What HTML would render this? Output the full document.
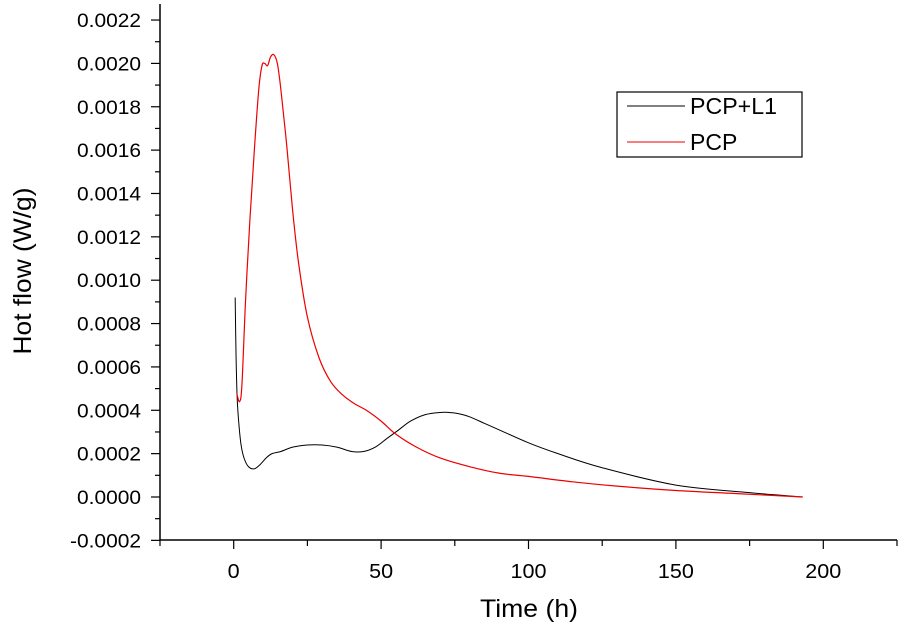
<!DOCTYPE html>
<html><head><meta charset="utf-8"><style>
body{margin:0;background:#fff}
svg{display:block;font-family:"Liberation Sans",Arial,sans-serif}
</style></head><body>
<svg id="chart" width="900" height="627" viewBox="0 0 900 627" xmlns="http://www.w3.org/2000/svg">
<g id="axes"></g>
<g id="series"></g>
<text x="529" y="617" font-size="25" text-anchor="middle" textLength="98" lengthAdjust="spacingAndGlyphs">Time (h)</text>
<text transform="translate(31,271) rotate(-90)" font-size="25" text-anchor="middle" textLength="167" lengthAdjust="spacingAndGlyphs">Hot flow (W/g)</text>
<g>
<rect x="617" y="92" width="185" height="65" fill="#fff" stroke="#000" stroke-width="1.2"/>
<line x1="627" y1="106" x2="685" y2="106" stroke="#000" stroke-width="1"/>
<text x="690" y="114" font-size="23" textLength="87" lengthAdjust="spacingAndGlyphs">PCP+L1</text>
<line x1="627" y1="142" x2="685" y2="142" stroke="#e00" stroke-width="1"/>
<text x="690" y="150" font-size="23">PCP</text>
</g>
</svg>
<script>
const xTicks=[0,50,100,150,200];
const yTicks=[-0.0002,0,0.0002,0.0004,0.0006,0.0008,0.0010,0.0012,0.0014,0.0016,0.0018,0.0020,0.0022];
const yTickLabels=["-0.0002","0.0000","0.0002","0.0004","0.0006","0.0008","0.0010","0.0012","0.0014","0.0016","0.0018","0.0020","0.0022"];
const pcpT=[1,2,2.8,4,5.5,7,8.5,9.6,10.5,11.5,12.5,13.6,14.8,16,18,20,22,25,29,33,37,41,45,50,55,62,70,80,90,100,115,130,150,170,193];
const pcpV=[0.00048,0.00044,0.00052,0.0009,0.00128,0.0016,0.00188,0.00199,0.002,0.00199,0.00203,0.00204,0.002,0.00188,0.00162,0.00132,0.00108,0.00083,0.00064,0.00053,0.00047,0.00043,0.0004,0.00035,0.00029,0.00023,0.00018,0.00014,0.00011,0.000095,0.00007,0.00005,0.00003,0.000016,0];
const pclT=[0.5,0.8,1.2,1.8,2.5,3.5,5,7,9,11,13,16,20,25,30,35,40,44,48,52,56,60,65,70,73,76,80,85,90,100,110,125,150,175,193];
const pclV=[0.00092,0.00065,0.00045,0.00033,0.00024,0.00018,0.00014,0.00013,0.00015,0.00018,0.0002,0.00021,0.00023,0.00024,0.00024,0.00023,0.00021,0.00021,0.00023,0.00027,0.00031,0.00035,0.00038,0.00039,0.00039,0.000385,0.00037,0.00034,0.00031,0.00025,0.00020,0.000135,0.000055,0.00002,0];
const X0=-25,X1=225,PX0=160,PX1=897;
function xs(t){return PX0+(t-X0)/(X1-X0)*(PX1-PX0);}
function ys(v){return 497-v/0.0002*43.36;}
const NS="http://www.w3.org/2000/svg";
function mk(tag,attrs,parent){const e=document.createElementNS(NS,tag);for(const k in attrs)e.setAttribute(k,attrs[k]);parent.appendChild(e);return e;}
const ax=document.getElementById('axes');
let l=mk('line',{x1:PX0,y1:540,x2:PX1,y2:540,stroke:'#000','stroke-width':1.5},ax);


l=mk('line',{x1:PX0,y1:540,x2:PX0,y2:4,stroke:'#000','stroke-width':1.5},ax);


for(let t=-25;t<=225;t+=25){const major=(t%50===0);const x=xs(t);
 const tk=mk('line',{x1:x,y1:540,x2:x,y2:major?549:546,stroke:'#000','stroke-width':1.2},ax);
 
 }
xTicks.forEach(t=>{const s=String(t);const tx=mk('text',{x:xs(t),y:578,'font-size':20,'text-anchor':'middle',textLength:12*s.length,lengthAdjust:'spacingAndGlyphs'},ax);tx.textContent=s;
 
 });
for(let i=-2;i<=22;i++){const v=i*0.0001;const y=ys(v);const major=(i%2===0);
 const tk=mk('line',{x1:PX0,y1:y,x2:major?PX0-9:PX0-5,y2:y,stroke:'#000','stroke-width':1.2},ax);
 
 }
yTicks.forEach((v,i)=>{const s=yTickLabels[i];const tx=mk('text',{x:141,y:ys(v)+7,'font-size':19,'text-anchor':'end',textLength:s.length>6?71:64,lengthAdjust:'spacingAndGlyphs'},ax);tx.textContent=s;
 
 });
function pathOf(T,V){const p=T.map((t,i)=>[xs(t),ys(V[i])]);let d='M'+p[0][0]+','+p[0][1];
 for(let i=0;i<p.length-1;i++){const p0=p[i-1]||p[i],p1=p[i],p2=p[i+1],p3=p[i+2]||p2;
  d+=' C'+(p1[0]+(p2[0]-p0[0])/6)+','+(p1[1]+(p2[1]-p0[1])/6)+' '+(p2[0]-(p3[0]-p1[0])/6)+','+(p2[1]-(p3[1]-p1[1])/6)+' '+p2[0]+','+p2[1];}
 return d;}
const sg=document.getElementById('series');
const s1=mk('path',{d:pathOf(pclT,pclV),fill:'none',stroke:'#000','stroke-width':1},sg);


const s2=mk('path',{d:pathOf(pcpT,pcpV),fill:'none',stroke:'#e00','stroke-width':1.2},sg);


</script>
</body></html>
